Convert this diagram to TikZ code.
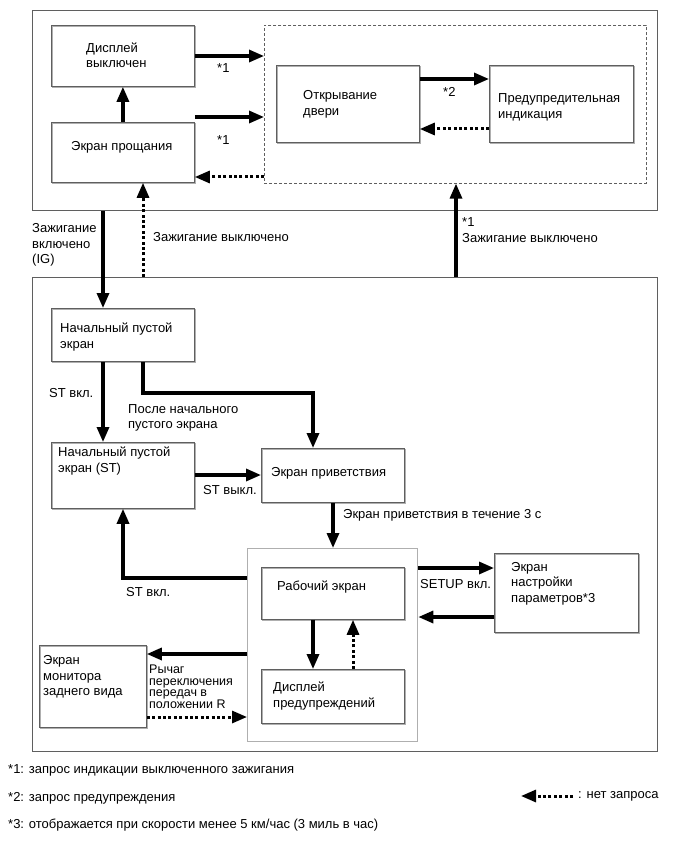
\documentclass[tikz,border=0pt]{standalone}
\usepackage{fontspec}
\setmainfont{Liberation Sans}
\usetikzlibrary{arrows.meta}
\definecolor{boxgray}{RGB}{95,95,95}
\definecolor{lightbox}{RGB}{175,175,175}
\begin{document}
\begin{tikzpicture}[x=1pt,y=-1pt,
  every node/.style={font=\fontsize{13}{15.5}\selectfont},
  box/.style={draw=boxgray,line width=0.8pt,anchor=north west,inner sep=0pt,
    preaction={draw=lightbox,line width=1pt,transform canvas={shift={(0.9pt,-0.9pt)}}}},
  outer/.style={draw=boxgray,line width=0.9pt,anchor=north west,inner sep=0pt},
  lbl/.style={anchor=west,align=left,inner sep=0pt},
  arr/.style={line width=3.2pt,-{Triangle[length=15pt,width=12pt]}},
  dotarr/.style={line width=3pt,dash pattern=on 3pt off 2.4pt,-{Triangle[length=15pt,width=12pt]}}
]
\useasboundingbox (0,0) rectangle (690,853);
% outer frames
\node[outer,minimum width=625pt,minimum height=200pt] (T) at (32,10) {};
\node[outer,minimum width=625pt,minimum height=474pt] (B) at (32,277) {};
\node[draw=boxgray,line width=0.6pt,dash pattern=on 3pt off 2pt,anchor=north west,inner sep=0pt,minimum width=382pt,minimum height=158pt] (dz) at (264,25) {};
% boxes top
\node[box,minimum width=143pt,minimum height=61pt] (dv) at (51,25) {};
\node[box,minimum width=143pt,minimum height=60pt] (ep) at (51,122) {};
\node[box,minimum width=143pt,minimum height=77pt] (od) at (276,65) {};
\node[box,minimum width=144pt,minimum height=77pt] (pi) at (489,65) {};
% boxes bottom
\node[box,minimum width=143pt,minimum height=53pt] (np) at (51,308) {};
\node[box,minimum width=143pt,minimum height=66pt] (nst) at (51,442) {};
\node[box,minimum width=143pt,minimum height=54pt] (pr) at (261,448) {};
\node[draw=lightbox,line width=1.3pt,anchor=north west,inner sep=0pt,minimum width=170pt,minimum height=193pt] (grp) at (247,548) {};
\node[box,minimum width=143pt,minimum height=52pt] (re) at (261,567) {};
\node[box,minimum width=143pt,minimum height=54pt] (dp) at (261,669) {};
\node[box,minimum width=144pt,minimum height=79pt] (ns) at (494,553) {};
\node[box,minimum width=107pt,minimum height=82pt] (mon) at (39,645) {};
% texts in boxes
\node[lbl] (tdv) at (86,55) {Дисплей\\выключен};
\node[lbl] (tep) at (71,147) {Экран прощания};
\node[lbl] (tod) at (303,104.5) {Открывание\\двери};
\node[lbl] (tpi) at (498,107.5) {Предупредительная\\индикация};
\node[lbl] (tnp) at (60,337) {Начальный пустой\\экран};
\node[lbl] (tnst) at (58,461) {Начальный пустой\\экран (ST)};
\node[lbl] (tpr) at (271,473) {Экран приветствия};
\node[lbl] (tre) at (277,587) {Рабочий экран};
\node[lbl] (tdp) at (273,696) {Дисплей\\предупреждений};
\node[lbl] (tns) at (511,583.5) {Экран\\настройки\\параметров*3};
\node[lbl] (tmon) at (43,677) {Экран\\монитора\\заднего вида};
% arrows top
\draw[arr] (ep.north) -- (dv.south);
\draw[arr] (dv.east |- 0,56) -- (dz.west |- 0,56);
\draw[arr] (ep.east |- 0,117) -- (dz.west |- 0,117);
\draw[dotarr] (dz.west |- 0,177) -- (ep.east |- 0,177);
\draw[arr] (od.east |- 0,79) -- (pi.west |- 0,79);
\draw[dotarr] (pi.west |- 0,129) -- (od.east |- 0,129);
\node[lbl] (s1a) at (217,68) {*1};
\node[lbl] (s1b) at (217,140) {*1};
\node[lbl] (s2) at (443,92) {*2};
% between frames
\draw[arr] (T.south -| 103,0) -- (np.north -| 103,0);
\draw[dotarr] (B.north -| 143,0) -- (ep.south -| 143,0);
\draw[arr] (B.north -| 456,0) -- (dz.south -| 456,0);
\node[lbl] (tig) at (32,245) {Зажигание\\включено\\(IG)};
\node[lbl] (tigoff) at (153,237) {Зажигание выключено};
\node[lbl] (tigoff2) at (462,230) {*1\\Зажигание выключено};
% arrows bottom
\coordinate (c1) at (313,393);
\draw[arr] (np.south -| 103,0) -- (nst.north -| 103,0);
\draw[arr] (np.south -| 143,0) |- (c1) -- (pr.north -| c1);
\draw[arr] (nst.east |- 0,475) -- (pr.west |- 0,475);
\draw[arr] (pr.south -| 333,0) -- (grp.north -| 333,0);
\draw[arr] (grp.west |- 0,578) -| (nst.south -| 123,0);
\draw[arr] (grp.east |- 0,568) -- (ns.west |- 0,568);
\draw[arr] (ns.west |- 0,617) -- (grp.east |- 0,617);
\draw[arr] (re.south -| 313,0) -- (dp.north -| 313,0);
\draw[dotarr] (dp.north -| 353,0) -- (re.south -| 353,0);
\draw[arr] (grp.west |- 0,654) -- (mon.east |- 0,654);
\draw[dotarr] (mon.east |- 0,717) -- (grp.west |- 0,717);
\node[lbl] (lst1) at (49,393) {ST вкл.};
\node[lbl] (lpos) at (128,418) {После начального\\пустого экрана};
\node[lbl] (lst2) at (203,490) {ST выкл.};
\node[lbl] (lpr3) at (343,515) {Экран приветствия в течение 3 с};
\node[lbl] (lsetup) at (420,584) {SETUP вкл.};
\node[lbl] (lst3) at (126,592) {ST вкл.};
\node[lbl,font=\fontsize{12.5}{11.5}\selectfont] (lr) at (149,687) {Рычаг\\переключения\\передач в\\положении R};
% footnotes and legend
\node[lbl] (f1) at (8,770) {*1: запрос индикации выключенного зажигания};
\node[lbl] (f2) at (8,798) {*2: запрос предупреждения};
\node[lbl] (f3) at (8,825) {*3: отображается при скорости менее 5 км/час (3 миль в час)};
\coordinate (lga) at (573,796);
\coordinate (lgb) at (521,796);
\draw[dotarr] (lga) -- (lgb);
\node[lbl] (lgt) at (578,796) {: нет запроса};
\end{tikzpicture}
\end{document}
